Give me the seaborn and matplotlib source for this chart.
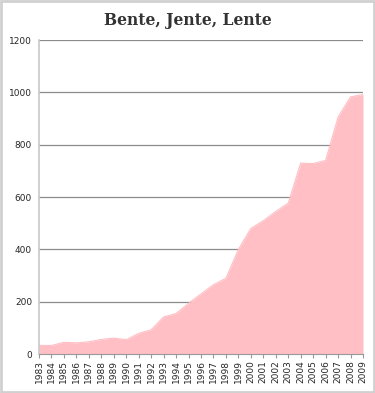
import numpy as np
import pandas as pd
import matplotlib
matplotlib.use('Agg')
import matplotlib.pyplot as plt
import seaborn as sns

# --- data ---
years = list(range(1983, 2010))
values = [33, 33, 45, 43, 47, 56, 61, 55, 79, 93, 142, 155, 194, 230, 265, 290,
          400, 480, 510, 545, 577, 730, 728, 740, 906, 983, 992]
y_ticks = [0, 200, 400, 600, 800, 1000, 1200]

df = pd.DataFrame({'year': years, 'value': values})

sns.set_style('white')
plt.rcParams['font.family'] = ['DejaVu Sans']

fig = plt.figure(figsize=(3.75, 3.93), dpi=100)
ax = fig.add_axes([0.104, 0.099, 0.864, 0.799])

pink = '#ffbfc4'
sns.lineplot(data=df, x='year', y='value', color=pink, linewidth=0.8, ax=ax)
ax.fill_between(df['year'], df['value'], color=pink, linewidth=0)

ax.set_xlim(1983, 2009)
ax.set_ylim(0, 1200)
ax.set_yticks(y_ticks)
ax.set_xticks(years)
ax.set_xticklabels([str(y) for y in years], rotation=90, fontsize=6.5)
ax.tick_params(axis='y', labelsize=6.5, length=3, width=0.8, color='#999999', pad=2)
ax.tick_params(axis='x', length=3, width=0.8, color='#999999', pad=1.5, bottom=True)
ax.grid(axis='y', color='#8c8c8c', linewidth=0.9)
ax.set_axisbelow(True)
ax.set_xlabel('')
ax.set_ylabel('')

for side in ['top', 'right']:
    ax.spines[side].set_visible(False)
ax.spines['left'].set_color('#c8c8c8')
ax.spines['left'].set_linewidth(1.2)
ax.spines['bottom'].set_color('#999999')
ax.spines['bottom'].set_linewidth(0.8)

fig.text(0.5, 0.947, 'Bente, Jente, Lente', ha='center', va='center',
         fontsize=11.2, fontweight='heavy', family='DejaVu Serif', color='#333333')

# light grey frame around the picture
fig.patches.append(plt.Rectangle((0.003, 0.003), 0.994, 0.994, transform=fig.transFigure,
                                 fill=False, edgecolor='#d0d0d0', linewidth=2))

fig.savefig('out.png', dpi=100)
